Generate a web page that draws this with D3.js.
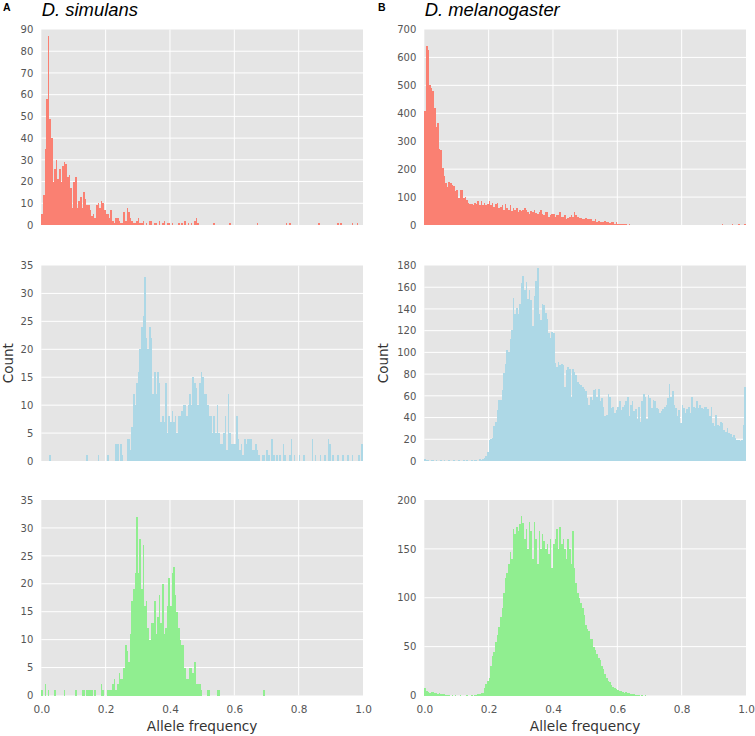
<!DOCTYPE html>
<html>
<head>
<meta charset="utf-8">
<script src="https://cdn.jsdelivr.net/npm/d3@7"></script>
<style>
  html, body { margin: 0; padding: 0; background: #fff; }
  svg { display: block; }
</style>
</head>
<body>
<svg id="chart" width="755" height="736"></svg>
<script>
// ---------- DATA (200 bins of width 0.005 over allele frequency 0..1) ----------
const binWidth = 0.005;

const simulansTop = [
  5,14,35,58,87,49,40,20,26,30,21,26,20,27,29,28,22,23,17,8,
  20,22,8,11,13,8,15,12,9,9,7,4,5,3,9,10,8,11,10,7,
  5,5,3,7,2,1,3,3,2,1,1,6,2,8,6,3,2,1,1,2,
  3,1,1,2,0,1,0,2,2,0,1,1,0,2,0,1,2,0,1,1,
  0,1,0,0,0,1,0,1,0,2,0,1,0,1,0,2,3,1,0,0,
  0,0,0,0,0,0,0,1,0,0,0,0,0,0,0,0,0,1,0,0,
  0,0,0,0,0,0,0,0,0,0,0,0,0,0,1,0,0,0,0,0,
  0,0,0,0,0,0,0,0,0,0,0,0,1,0,1,0,0,0,0,0,
  0,0,0,0,0,0,0,0,0,0,0,0,1,0,0,0,0,0,0,0,
  0,0,0,0,1,0,1,0,0,0,0,0,0,1,0,0,1,0,0,0
];

const melanogasterTop = [
  408,641,625,500,490,480,420,350,365,272,270,205,175,150,135,155,150,145,140,120,
  125,95,125,125,95,100,90,80,75,75,70,80,75,85,70,85,70,80,70,75,
  85,70,80,65,75,80,60,65,70,55,75,60,55,70,50,60,55,62,45,55,
  50,55,60,55,45,40,50,45,55,42,40,45,55,40,35,45,45,28,35,40,
  40,30,35,35,45,30,30,35,22,25,30,35,30,48,35,30,25,25,20,20,
  25,20,20,20,15,15,20,10,15,10,10,12,15,10,10,6,12,10,5,10,
  5,5,3,3,2,2,1,2,1,0,1,0,0,0,1,0,0,0,0,0,
  0,0,0,0,0,0,0,0,0,0,0,0,0,0,0,0,0,0,0,0,
  0,0,0,0,0,0,0,0,0,0,0,0,0,0,0,0,0,0,0,0,
  0,0,0,0,0,2,0,0,0,1,0,2,1,0,0,2,1,0,1,2
];

const simulansMid = [
  0,0,0,0,0,1,0,0,0,0,0,0,0,0,0,0,0,0,0,0,
  0,0,0,0,0,0,0,0,1,0,0,0,0,0,0,1,0,0,0,0,
  0,1,0,0,0,0,3,3,0,3,1,0,0,4,4,2,6,12,10,14,
  16,20,24,26,33,22,20,24,22,12,16,12,16,14,7,8,7,14,5,8,
  7,9,7,8,5,8,8,9,10,10,8,10,12,10,15,14,13,10,14,16,
  15,12,12,10,8,8,5,8,5,10,5,3,3,5,8,2,12,5,3,3,
  3,8,4,2,3,1,4,3,4,4,4,2,2,3,2,1,0,1,1,0,
  2,1,0,4,1,0,1,0,1,0,3,1,0,0,1,4,0,1,0,0,
  1,0,0,1,0,0,0,0,4,0,1,0,0,1,0,0,1,0,4,3,
  0,1,0,0,1,0,0,1,0,0,1,0,0,1,0,0,0,1,0,3
];

const melanogasterMid = [
  2,1,1,0,1,1,0,1,0,0,1,0,1,0,0,1,0,0,1,0,
  0,1,0,0,1,0,1,0,0,1,0,1,1,0,2,1,2,3,5,8,
  19,20,21,32,36,47,56,56,65,81,89,102,100,112,121,150,135,141,135,145,
  164,170,157,165,149,157,148,124,152,166,178,135,130,145,144,136,131,118,113,119,
  118,90,87,91,88,89,88,68,84,87,85,59,85,82,79,73,71,70,68,66,
  64,58,52,59,56,65,66,59,66,55,58,50,41,42,62,59,49,50,44,47,
  50,55,47,50,52,55,59,41,52,55,46,48,39,50,36,55,62,59,39,61,
  58,49,56,55,49,48,44,46,48,50,52,58,71,59,64,52,49,41,47,35,
  52,49,44,48,50,44,59,50,49,55,49,52,49,48,50,50,48,41,50,35,
  32,42,33,32,36,35,29,27,30,26,25,22,24,21,19,19,18,19,33,68
];

const simulansBot = [
  1,0,2,0,1,0,0,0,1,0,0,0,0,0,1,0,0,0,0,0,
  0,1,0,0,0,1,1,0,1,1,1,1,0,1,0,0,0,2,1,0,
  0,1,1,1,2,3,1,2,4,3,3,5,9,8,6,11,17,19,22,32,
  22,28,19,27,16,17,12,10,13,13,17,11,14,18,13,20,11,12,16,21,
  16,22,23,18,15,12,10,9,9,5,3,3,5,5,4,6,2,2,2,1,
  0,0,0,1,1,0,0,0,0,1,1,0,0,0,0,0,0,0,0,0,
  0,0,0,0,0,0,0,0,0,0,0,0,0,0,0,0,0,0,1,0,
  0,0,0,0,0,0,0,0,0,0,0,0,0,0,0,0,0,0,0,0,
  0,0,0,0,0,0,0,0,0,0,0,0,0,0,0,0,0,0,0,0,
  0,0,0,0,0,0,0,0,0,0,0,0,0,0,0,0,0,0,0,0
];

const melanogasterBot = [
  8,5,4,3,4,4,3,3,2,3,2,2,2,1,1,1,0,1,0,1,
  0,0,1,0,0,0,1,0,0,1,0,1,1,2,2,3,3,8,12,15,
  18,30,40,45,55,62,70,80,90,105,120,125,135,147,140,170,165,172,168,175,
  184,176,160,170,150,178,168,140,178,160,135,168,150,165,158,150,155,145,160,130,
  155,160,170,150,172,155,160,150,140,160,150,135,168,130,115,105,100,95,90,82,
  72,68,66,58,58,50,47,42,38,36,30,27,22,18,15,14,11,9,8,7,
  6,5,5,4,3,4,3,3,2,2,2,1,1,1,0,1,0,1,0,0,
  0,0,0,0,0,0,0,0,0,0,0,0,0,0,0,0,0,0,0,0,
  0,0,0,0,0,0,0,0,0,0,0,0,0,0,0,0,0,0,0,0,
  0,0,0,0,0,0,0,0,0,0,0,0,0,0,0,0,0,0,0,0
];

// ---------- TICKS / LABELS ----------
const xTicks = [0.0, 0.2, 0.4, 0.6, 0.8, 1.0];
const yTicksSimTop = [0,10,20,30,40,50,60,70,80,90];
const yTicksMelTop = [0,100,200,300,400,500,600,700];
const yTicksSimMid = [0,5,10,15,20,25,30,35];
const yTicksMelMid = [0,20,40,60,80,100,120,140,160,180];
const yTicksSimBot = [0,5,10,15,20,25,30,35];
const yTicksMelBot = [0,50,100,150,200];
const columnTitles = ["D. simulans", "D. melanogaster"];
const panelLetters = ["A", "B"];
const colors = ["#fa8072", "#add8e6", "#90ee90"];
const xLabel = "Allele frequency";
const yLabel = "Count";

// ---------- LAYOUT ----------
const colX = [41.3, 424.3];
const letterX = [3, 378];
const countX = [12.8, 388];
const plotW = 321.7;
const rowY = [29.5, 265.5, 500];
const plotH = 195.5;

const panels = [
  {col:0,row:0,data:simulansTop,ticks:yTicksSimTop},
  {col:1,row:0,data:melanogasterTop,ticks:yTicksMelTop},
  {col:0,row:1,data:simulansMid,ticks:yTicksSimMid},
  {col:1,row:1,data:melanogasterMid,ticks:yTicksMelMid},
  {col:0,row:2,data:simulansBot,ticks:yTicksSimBot},
  {col:1,row:2,data:melanogasterBot,ticks:yTicksMelBot}
];

const svg = d3.select("#chart");
const tickFont = "DejaVu Sans, sans-serif";

panels.forEach(p => {
  const x0 = colX[p.col], y0 = rowY[p.row];
  const g = svg.append("g").attr("transform", `translate(${x0},${y0})`);
  const x = d3.scaleLinear().domain([0, 1]).range([0, plotW]);
  const y = d3.scaleLinear().domain([0, d3.max(p.ticks)]).range([plotH, 0]);

  g.append("rect").attr("width", plotW).attr("height", plotH).attr("fill", "#e5e5e5");

  // grid
  g.selectAll("line.gx").data(xTicks.filter(t => t > 0 && t < 1)).enter().append("line")
    .attr("x1", d => x(d)).attr("x2", d => x(d)).attr("y1", 0).attr("y2", plotH)
    .attr("stroke", "#fff").attr("stroke-width", 1);
  g.selectAll("line.gy").data(p.ticks.filter(t => t > 0 && t < d3.max(p.ticks))).enter().append("line")
    .attr("y1", d => y(d)).attr("y2", d => y(d)).attr("x1", 0).attr("x2", plotW)
    .attr("stroke", "#fff").attr("stroke-width", 1);

  // bars
  const bins = p.data.map((v, i) => ({x0: i * binWidth, x1: (i + 1) * binWidth, v}));
  g.selectAll("rect.bar").data(bins.filter(b => b.v > 0)).enter().append("rect")
    .attr("class", "bar")
    .attr("x", d => x(d.x0))
    .attr("width", d => x(d.x1) - x(d.x0))
    .attr("y", d => y(d.v))
    .attr("height", d => plotH - y(d.v))
    .attr("fill", colors[p.row])
    .attr("shape-rendering", "crispEdges");

  // y axis
  const ya = d3.axisLeft(y).tickValues(p.ticks).tickSize(0).tickPadding(8).tickFormat(d3.format("d"));
  const yg = g.append("g").call(ya);
  yg.select(".domain").remove();
  yg.selectAll("text").attr("font-family", tickFont).attr("font-size", "10px").attr("fill", "#555");

  // x axis labels only on bottom row
  if (p.row === 2) {
    const xa = d3.axisBottom(x).tickValues(xTicks).tickSize(0).tickPadding(10).tickFormat(d3.format(".1f"));
    const xg = g.append("g").attr("transform", `translate(0,${plotH})`).call(xa);
    xg.select(".domain").remove();
    xg.selectAll("text").attr("font-family", tickFont).attr("font-size", "10.5px").attr("fill", "#555");
    g.append("text").attr("x", plotW / 2).attr("y", plotH + 35)
      .attr("text-anchor", "middle").attr("font-family", tickFont).attr("font-size", "13.7px")
      .attr("fill", "#333").text(xLabel);
  }
  if (p.row === 1) {
    g.append("text").attr("transform", `translate(${countX[p.col] - x0},${plotH / 2}) rotate(-90)`)
      .attr("text-anchor", "middle").attr("font-family", tickFont).attr("font-size", "13.5px")
      .attr("fill", "#333").text(yLabel);
  }
});

// column titles & letters
columnTitles.forEach((t, i) => {
  svg.append("text").attr("x", colX[i] + 0.5).attr("y", 16)
    .attr("font-family", "Liberation Sans, Arial, sans-serif").attr("font-style", "italic")
    .attr("font-size", "18.4px").attr("fill", "#000").text(t);
  svg.append("text").attr("x", letterX[i]).attr("y", 11)
    .attr("font-family", "Liberation Sans, Arial, sans-serif").attr("font-weight", "bold")
    .attr("font-size", "10.5px").attr("fill", "#000").text(panelLetters[i]);
});
</script>
</body>
</html>
